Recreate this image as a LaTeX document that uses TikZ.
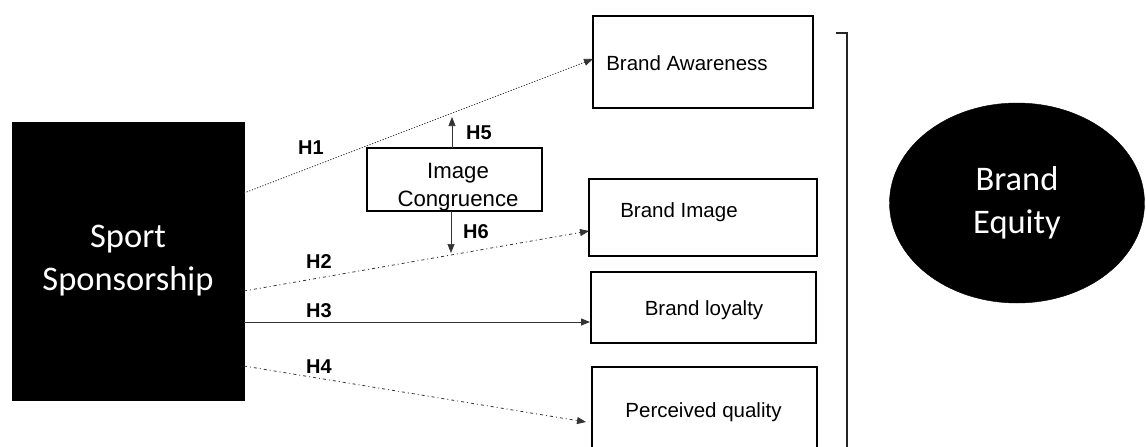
\documentclass[tikz,border=0pt]{standalone}
\usepackage{fontspec}
\setmainfont{Liberation Sans}
\newfontfamily\calib{Carlito}
\usetikzlibrary{arrows.meta,shapes.geometric}

\begin{document}
\begin{tikzpicture}[x=1pt,y=-1pt,
  dimbox/.style={draw,line width=2.6pt,inner sep=0pt},
  blackbox/.style={fill=black,draw=black,text=white,align=center,
    font=\calib\fontsize{34.5}{43}\selectfont},
  lbl/.style={anchor=base,inner sep=0pt,font=\fontsize{20.5}{24}\selectfont},
  hyp/.style={anchor=base,inner sep=0pt,font=\bfseries\fontsize{20}{24}\selectfont},
  link/.style={line width=0.8pt,draw=black!80,-{Triangle[length=9pt,width=7pt]}},
  dotline/.style={link,dash pattern=on 1.2pt off 1.6pt},
  dashdotline/.style={link,dash pattern=on 3pt off 3pt on 1pt off 3pt},
]
\clip (0,0) rectangle (1146,447);
\fill[white] (0,0) rectangle (1146,447);

% independent variable and outcome
\node[blackbox,minimum width=232pt,minimum height=278pt] (ss) at (128,261) {Sport\\Sponsorship};
\node[blackbox,ellipse,minimum width=255pt,minimum height=200pt,inner sep=0pt] (be) at (1017,203) {Brand\\Equity};

% brand equity dimensions
\node[dimbox,minimum width=220pt,minimum height=92pt] (ba) at (703,62) {};
\node[lbl] (bat) at (687,70) {Brand Awareness};
\node[dimbox,minimum width=228pt,minimum height=77pt] (bi) at (703,217.5) {};
\node[lbl] (bit) at (679,217) {Brand Image};
\node[dimbox,minimum width=225pt,minimum height=71pt] (bl) at (703.5,307.5) {};
\node[lbl] (blt) at (704,315) {Brand loyalty};
\node[dimbox,minimum width=225pt,minimum height=113pt] (pq) at (704.5,423.5) {};
\node[lbl] (pqt) at (703.5,417) {Perceived quality};

% moderator
\node[draw,line width=2pt,minimum width=175pt,minimum height=63pt,inner sep=0pt] (ic) at (454.5,179.5) {};
\node[align=center,inner sep=0pt,font=\fontsize{22.2}{28}\selectfont] (ict) at (458,187) {Image\\Congruence};

% bracket grouping the dimensions
\draw[line width=1.2pt,draw=black!85] (836,33) -- (847,33) -- (847,460);

% connector end points
\coordinate (s1) at (244,193);
\coordinate (s2) at (244,291);
\coordinate (s3) at (244,322);
\coordinate (s4) at (244,366);
\coordinate (e1) at (593,59);
\coordinate (e2) at (589,231);
\coordinate (e3) at (590,322);
\coordinate (e4) at (586,422);
\coordinate (m5) at (452,148);
\coordinate (t5) at (452,117);
\coordinate (m6) at (451,211);
\coordinate (t6) at (451,253);

\draw[dotline] (s1) -- (e1);
\draw[dashdotline] (s2) -- (e2);
\draw[link] (s3) -- (e3);
\draw[dashdotline] (s4) -- (e4);
\draw[link,line width=0.7pt] (m5) -- (t5);
\draw[link,line width=0.7pt] (m6) -- (t6);

% hypothesis labels
\node[hyp] (h1) at (311,154) {H1};
\node[hyp] (h2) at (319,268) {H2};
\node[hyp] (h3) at (319,317) {H3};
\node[hyp] (h4) at (319,373) {H4};
\node[hyp] (h5) at (479,139) {H5};
\node[hyp] (h6) at (476,238) {H6};
\end{tikzpicture}
\end{document}
